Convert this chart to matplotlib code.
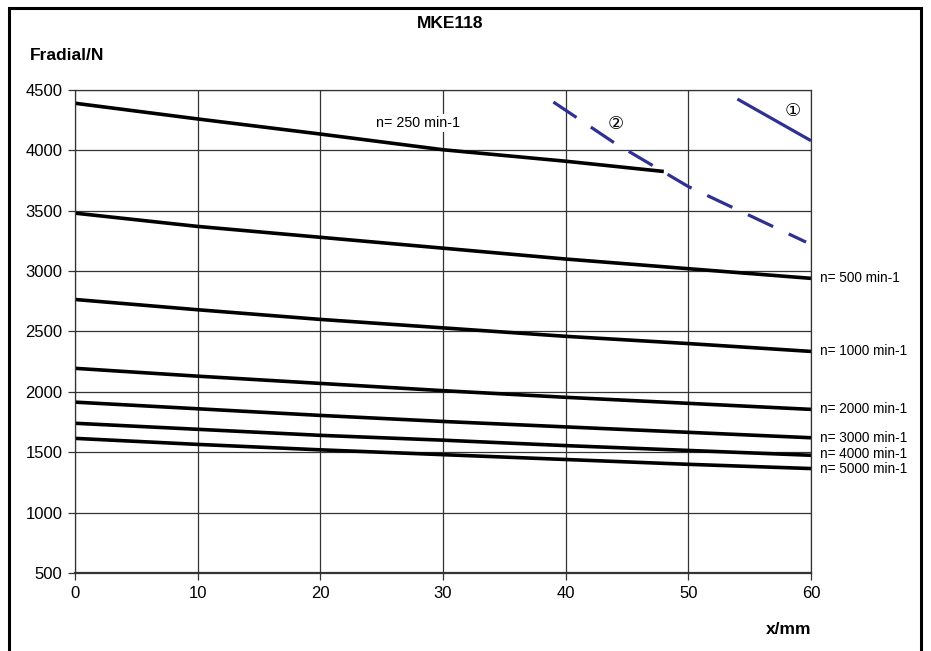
import matplotlib.pyplot as plt
from matplotlib.patches import Rectangle

plt.rcParams['font.family'] = ['Liberation Sans', 'DejaVu Sans', 'Noto Sans CJK SC']

# speed curves: x positions (mm) and radial force (N)
x_full = [0, 10, 20, 30, 40, 50, 60]
x_250 = [0, 10, 20, 30, 40, 48]
f_250 = [4390, 4260, 4135, 4005, 3910, 3825]
f_500 = [3480, 3370, 3280, 3190, 3100, 3020, 2940]
f_1000 = [2765, 2680, 2600, 2530, 2460, 2400, 2335]
f_2000 = [2195, 2130, 2070, 2010, 1955, 1905, 1855]
f_3000 = [1915, 1860, 1805, 1755, 1710, 1665, 1620]
f_4000 = [1740, 1690, 1640, 1600, 1555, 1515, 1475]
f_5000 = [1615, 1565, 1520, 1480, 1440, 1400, 1365]
side_labels = ['n= 500 min-1', 'n= 1000 min-1', 'n= 2000 min-1',
               'n= 3000 min-1', 'n= 4000 min-1', 'n= 5000 min-1']

# limit curves (1) solid and (2) dashed
x_lim1 = [54, 60]
f_lim1 = [4425, 4080]
x_lim2 = [39, 44, 50, 59.6]
f_lim2 = [4400, 4060, 3700, 3240]

blue = '#2E3192'

fig = plt.figure(figsize=(9.31, 6.51), dpi=100)
ax = fig.add_axes([0.0806, 0.1198, 0.7905, 0.742])

ax.plot(x_250, f_250, color='black', lw=2.6, solid_capstyle='butt')
for f in [f_500, f_1000, f_2000, f_3000, f_4000, f_5000]:
    ax.plot(x_full, f, color='black', lw=2.6, solid_capstyle='butt', clip_on=False)

ax.plot(x_lim1, f_lim1, color=blue, lw=2.3, solid_capstyle='butt', clip_on=False)
ax.plot(x_lim2, f_lim2, color=blue, lw=2.3, dashes=(8.7, 5.4), dash_capstyle='butt')

ax.text(28, 4225, 'n= 250 min-1', fontsize=10.3, ha='center', va='center',
        bbox=dict(facecolor='white', edgecolor='none', pad=1.5), zorder=5)
ends = [f_500[-1], f_1000[-1], f_2000[-1], f_3000[-1], f_4000[-1] + 10, f_5000[-1] - 5]
for lab, yv in zip(side_labels, ends):
    ax.text(60.7, yv, lab, fontsize=9.8, ha='left', va='center', clip_on=False)

ax.text(58.5, 4325, '\u2460', fontsize=13, ha='center', va='center')
ax.text(44.1, 4210, '\u2461', fontsize=13, ha='center', va='center')

ax.set_xlim(0, 60)
ax.set_ylim(500, 4500)
ax.set_xticks(range(0, 61, 10))
ax.set_yticks(range(500, 4501, 500))
ax.grid(True, color='#333333', lw=0.9)
ax.set_axisbelow(True)
ax.tick_params(labelsize=12, length=5, width=0.9, color='#333333', pad=4)
for s in ax.spines.values():
    s.set_color('#333333')
    s.set_linewidth(0.9)
ax.spines['bottom'].set_linewidth(1.6)

fig.text(450 / 931, 1 - 23 / 651, 'MKE118', fontsize=12.5, fontweight='bold',
         ha='center', va='center')
fig.text(30 / 931, 1 - 55 / 651, 'Fradial/N', fontsize=12.5, fontweight='bold',
         ha='left', va='center')
fig.text(789 / 931, 1 - 629 / 651, 'x/mm', fontsize=12.5, fontweight='bold',
         ha='center', va='center')

fig.patches.append(Rectangle((9 / 931, -0.05), 912 / 931, 1 - 8 / 651 + 0.05,
                             transform=fig.transFigure, fill=False,
                             edgecolor='black', lw=2.2))

fig.savefig('out.png', dpi=100)
